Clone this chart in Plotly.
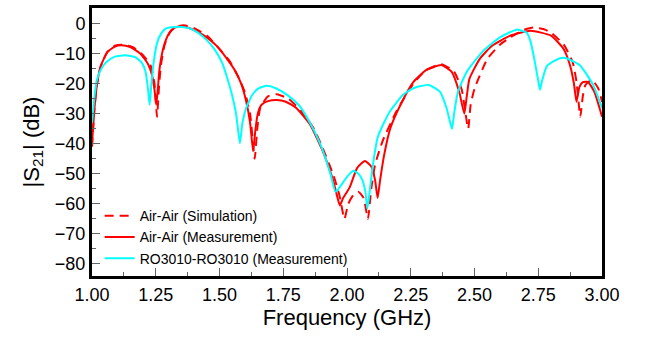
import plotly.graph_objects as go

# Air-Air (Simulation)
sim_f = [1.000, 1.010, 1.020, 1.035, 1.060, 1.090, 1.120, 1.160, 1.200, 1.230, 1.245, 1.255, 1.262, 1.270,
         1.285, 1.305, 1.330, 1.360, 1.400, 1.450, 1.500, 1.540, 1.575, 1.600, 1.620, 1.638, 1.648, 1.660,
         1.690, 1.725, 1.770, 1.820, 1.870, 1.900, 1.945, 1.970, 1.990, 2.005, 2.025, 2.045, 2.065, 2.082,
         2.095, 2.110, 2.140, 2.195, 2.260, 2.310, 2.370, 2.420, 2.450, 2.475, 2.485, 2.500, 2.550, 2.600,
         2.640, 2.690, 2.730, 2.770, 2.800, 2.850, 2.885, 2.900, 2.915, 2.925, 2.935, 2.960, 2.985, 3.000]
sim_db = [-41, -28, -20, -14, -9.5, -7.3, -7, -7.8, -10.5, -14, -20, -31, -22, -14,
          -7, -3, -1, -0.5, -1.5, -4, -8.5, -12.5, -18, -23, -30, -45, -35, -28,
          -24.2, -23.5, -25, -29, -35, -40.5, -50, -57, -65, -60, -57, -56, -58, -65,
          -55, -47, -39, -29, -20, -15.5, -13.5, -16, -22, -35, -27, -21.7, -11.8, -7,
          -4.6, -2.2, -1.3, -1.8, -3, -7, -12.8, -19.4, -31, -24, -20.4, -18.7, -21.5, -26]

# Air-Air (Measurement)
mea_f = [1.000, 1.010, 1.020, 1.035, 1.060, 1.090, 1.115, 1.150, 1.190, 1.220, 1.235, 1.245, 1.252, 1.258,
         1.265, 1.280, 1.300, 1.320, 1.350, 1.390, 1.440, 1.490, 1.530, 1.560, 1.585, 1.605, 1.620, 1.632,
         1.640, 1.650, 1.665, 1.690, 1.725, 1.760, 1.800, 1.855, 1.910, 1.945, 1.960, 1.972, 1.985, 2.010,
         2.040, 2.070, 2.095, 2.110, 2.120, 2.130, 2.145, 2.170, 2.210, 2.260, 2.310, 2.370, 2.410, 2.440,
         2.460, 2.470, 2.480, 2.520, 2.570, 2.640, 2.720, 2.800, 2.850, 2.875, 2.890, 2.900, 2.912, 2.925,
         2.945, 2.970, 2.990, 3.000]
mea_db = [-40, -28, -20, -14, -9.5, -7.6, -7.2, -7.8, -10, -13.5, -17, -22, -27, -22,
          -15, -8, -3.5, -1.5, -0.8, -1.8, -4, -7.5, -11.8, -15.5, -20, -26, -33, -42.5,
          -36, -30, -27, -25.8, -25.4, -26, -28, -33.6, -43.5, -52, -57, -60.5, -58, -54.6,
          -48, -45.7, -47.5, -52, -58, -52, -44, -34.8, -27, -19.5, -15.5, -13.8, -16, -22.7,
          -30, -24, -18.4, -11.8, -7.3, -4, -2.4, -4, -8.5, -14, -20, -26, -21, -19.5,
          -19.4, -22.7, -28, -31]

# RO3010-RO3010 (Measurement)
ro_f = [1.000, 1.010, 1.020, 1.040, 1.060, 1.090, 1.130, 1.170, 1.195, 1.210, 1.220, 1.226, 1.233, 1.242,
        1.255, 1.270, 1.290, 1.340, 1.380, 1.415, 1.450, 1.480, 1.510, 1.530, 1.550, 1.565, 1.580, 1.590,
        1.605, 1.630, 1.655, 1.685, 1.720, 1.765, 1.810, 1.845, 1.895, 1.935, 1.955, 1.975, 2.000, 2.025,
        2.045, 2.060, 2.072, 2.080, 2.090, 2.100, 2.120, 2.145, 2.170, 2.220, 2.260, 2.320, 2.365, 2.390,
        2.405, 2.412, 2.420, 2.435, 2.470, 2.535, 2.600, 2.665, 2.705, 2.720, 2.735, 2.750, 2.757, 2.765,
        2.785, 2.835, 2.860, 2.915, 2.965, 3.000]
ro_db = [-33, -24, -18.4, -14.5, -12.5, -11, -10.5, -11.2, -13, -16, -22, -27, -20, -12.8,
         -6.5, -3.5, -1.6, -1, -1.5, -3, -5.5, -8.5, -13, -18, -24, -30, -39.8, -33,
         -28, -23.5, -21.5, -20.7, -21.5, -23.7, -27, -31.5, -40, -50, -56, -54, -51, -49,
         -50, -52, -56, -61.5, -55, -48, -38, -33, -29, -23.7, -21.5, -20.4, -22.7, -28,
         -33, -35, -30, -22.7, -16, -9, -4.6, -2, -3, -6, -12, -19, -22, -19,
         -14, -11.5, -11.5, -14, -20.4, -28]

x_ticks = [1.00, 1.25, 1.50, 1.75, 2.00, 2.25, 2.50, 2.75, 3.00]
y_ticks = [0, -10, -20, -30, -40, -50, -60, -70, -80]

FONT = "Liberation Sans, Arial, sans-serif"

fig = go.Figure()
fig.add_trace(go.Scatter(x=sim_f, y=sim_db, mode="lines", name="Air-Air (Simulation)",
                         line=dict(color="#ff0000", width=2, dash="9px,6px", shape="spline", smoothing=0.5)))
fig.add_trace(go.Scatter(x=mea_f, y=mea_db, mode="lines", name="Air-Air (Measurement)",
                         line=dict(color="#ff0000", width=2, shape="spline", smoothing=0.5)))
fig.add_trace(go.Scatter(x=ro_f, y=ro_db, mode="lines", name="RO3010-RO3010 (Measurement)",
                         line=dict(color="#00ffff", width=2, shape="spline", smoothing=0.5)))

axis_common = dict(showgrid=False, zeroline=False, showline=True, linecolor="black", linewidth=3,
                   mirror=True, ticks="inside", ticklen=8, tickwidth=1, tickcolor="#666666",
                   tickfont=dict(family=FONT, size=18, color="black"))

fig.update_xaxes(range=[1.0, 3.0], tickvals=x_ticks, ticktext=[f"{v:.2f}" for v in x_ticks],
                 minor=dict(dtick=0.125, ticks="inside", ticklen=4, tickcolor="#666666"),
                 title=dict(text="Frequency (GHz)", font=dict(family=FONT, size=22, color="black"), standoff=6),
                 **axis_common)
fig.update_yaxes(range=[-84, 5.2], tickvals=y_ticks,
                 minor=dict(dtick=5, ticks="inside", ticklen=4, tickcolor="#666666"),
                 title=dict(text="|S<sub>21</sub>| (dB)", font=dict(family=FONT, size=22, color="black"), standoff=10),
                 **axis_common)

fig.update_layout(
    width=645, height=338,
    margin=dict(l=92, r=43, t=5, b=62),
    plot_bgcolor="white", paper_bgcolor="white",
    showlegend=True,
    legend=dict(x=0.015, y=0.283, xanchor="left", yanchor="top", bgcolor="rgba(0,0,0,0)",
                font=dict(family=FONT, size=14, color="black"), tracegroupgap=0),
)

fig.write_html("out.html")
